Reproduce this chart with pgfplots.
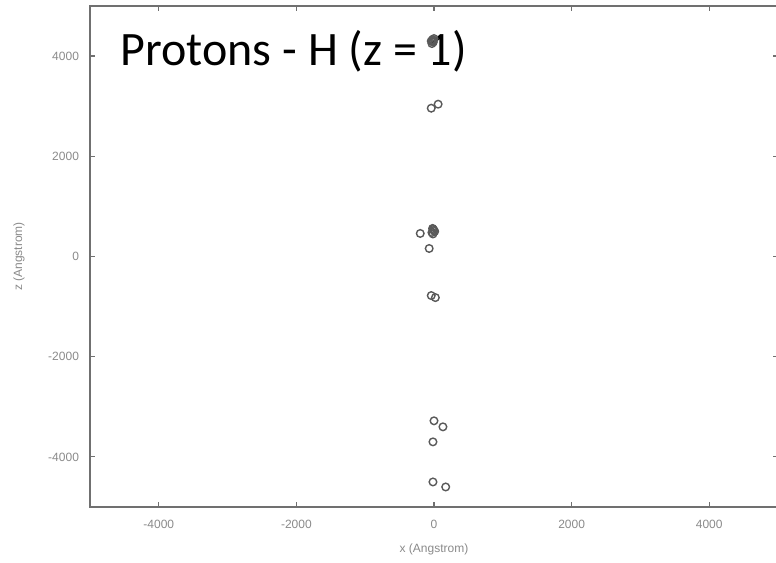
\documentclass[border=0pt]{standalone}
\usepackage{pgfplots}
\pgfplotsset{compat=1.18}
\usepackage{fontspec}
\setmainfont{Liberation Sans}
\newfontfamily\calib{Carlito}
\definecolor{axgray}{HTML}{707070}
\definecolor{tkgray}{HTML}{8A8A8A}
\begin{document}
\begin{tikzpicture}
\begin{axis}[
  at={(0,0)}, anchor=south west,
  width=344pt, height=250.5pt, scale only axis,
  xmin=-5000, xmax=5000, ymin=-5000, ymax=5000,
  xtick={-4000,-2000,0,2000,4000},
  ytick={-4000,-2000,0,2000,4000},
  tick align=inside,
  major tick length=2.5pt,
  axis line style={axgray, line width=0.8pt},
  every tick/.style={axgray, line width=0.6pt},
  /pgf/number format/assume math mode=true,
  /pgf/number format/1000 sep={},
  tick label style={font=\fontsize{6}{7}\selectfont, text=tkgray},
  xticklabel style={yshift=-3pt},
  yticklabel style={xshift=-2pt},
  xlabel={x (Angstrom)}, ylabel={z (Angstrom)},
  label style={font=\fontsize{6}{7}\selectfont, text=tkgray},
  xlabel style={yshift=-1pt},
  ylabel style={yshift=5pt},
]
\addplot[only marks, mark=o, mark size=1.9pt, mark options={draw=black!65, line width=0.7pt}] coordinates {
(-20,4330) (-10,4280) (-40,4300) (0,4350) (-30,4250) (-15,4310) (-25,4290)
(-40,2960) (60,3040)
(-20,560) (0,520) (-30,480) (10,500) (-10,540) (-15,450) (-200,460) (-70,160)
(-40,-780) (20,-820)
(0,-3280) (130,-3400) (-15,-3700) (-15,-4500) (170,-4600)
};
\node[anchor=base west, inner sep=0pt, font=\calib\fontsize{24}{28}\selectfont] at (axis cs:-4560,3820) {Protons - H (z = 1)};
\end{axis}
\pgfresetboundingbox
\useasboundingbox (-45pt,-27.5pt) rectangle (343pt,253.5pt);
\end{tikzpicture}
\end{document}
